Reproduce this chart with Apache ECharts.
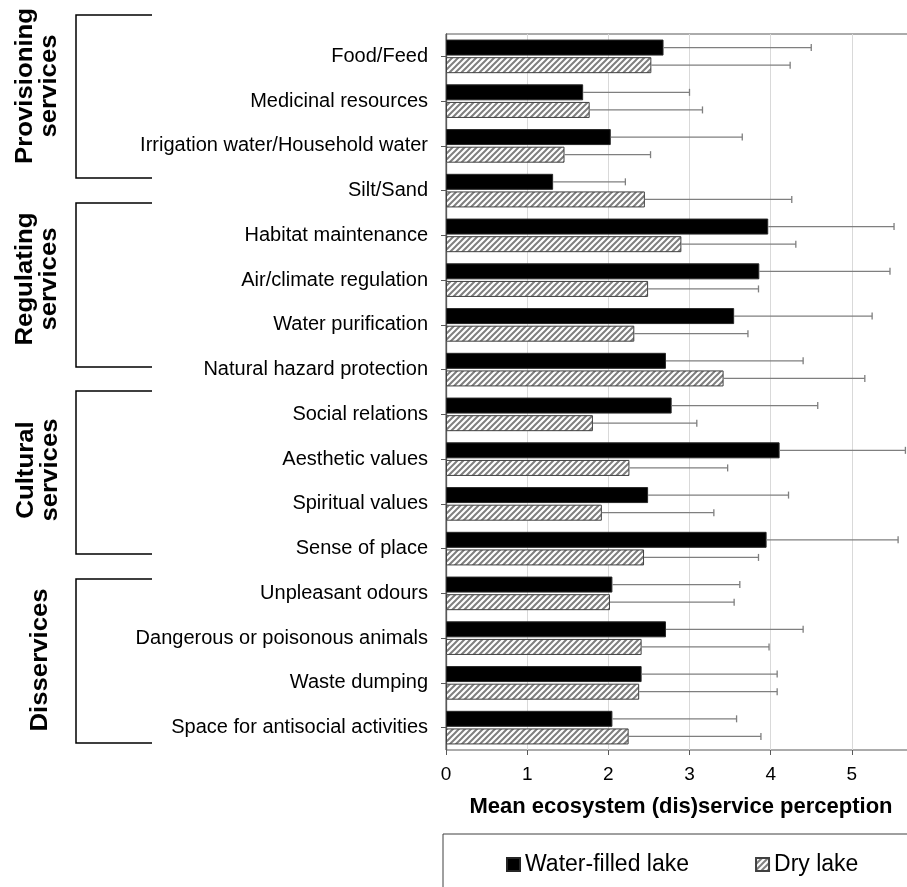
<!DOCTYPE html>
<html>
<head>
<meta charset="utf-8">
<script src="https://cdn.jsdelivr.net/npm/echarts@6/dist/echarts.min.js"></script>
<style>
    html, body { margin: 0; padding: 0; background: #fff; }
    #chart { width: 907px; height: 887px; }
</style>
</head>
<body>
<div id="chart"></div>
<script>
const categories = [
    "Food/Feed", "Medicinal resources", "Irrigation water/Household water", "Silt/Sand",
    "Habitat maintenance", "Air/climate regulation", "Water purification", "Natural hazard protection",
    "Social relations", "Aesthetic values", "Spiritual values", "Sense of place",
    "Unpleasant odours", "Dangerous or poisonous animals", "Waste dumping", "Space for antisocial activities"
];
const waterMean = [2.68, 1.69, 2.03, 1.32, 3.97, 3.86, 3.55, 2.71, 2.78, 4.11, 2.49, 3.95, 2.05, 2.71, 2.41, 2.05];
const waterSd = [1.82, 1.31, 1.62, 0.89, 1.55, 1.61, 1.70, 1.69, 1.80, 1.55, 1.73, 1.62, 1.57, 1.69, 1.67, 1.53];
const dryMean = [2.53, 1.77, 1.46, 2.45, 2.90, 2.49, 2.32, 3.42, 1.81, 2.26, 1.92, 2.44, 2.02, 2.41, 2.38, 2.25];
const drySd = [1.71, 1.39, 1.06, 1.81, 1.41, 1.36, 1.40, 1.74, 1.28, 1.21, 1.38, 1.41, 1.53, 1.57, 1.70, 1.63];
const xTicks = ["0", "1", "2", "3", "4", "5", "6"];
const groups = [
    { name: "Provisioning\nservices", x: 38, y: 86 },
    { name: "Regulating\nservices", x: 38, y: 279 },
    { name: "Cultural\nservices", x: 39, y: 470 },
    { name: "Disservices", x: 41, y: 660 }
];
const brackets = [[15, 178], [203, 367], [391, 554], [579, 743]];

const FONT = "Liberation Sans, Arial, sans-serif";

// diagonal hatch for the dry lake bars
const makeHatch = () => {
    const c = document.createElement("canvas");
    c.width = 6;
    c.height = 6;
    const ctx = c.getContext("2d");
    ctx.fillStyle = "#fff";
    ctx.fillRect(0, 0, 6, 6);
    ctx.strokeStyle = "#7f7f7f";
    ctx.lineWidth = 2;
    ctx.beginPath();
    ctx.moveTo(-1, 7); ctx.lineTo(7, -1);
    ctx.moveTo(-4, 4); ctx.lineTo(4, -4);
    ctx.moveTo(2, 10); ctx.lineTo(10, 2);
    ctx.stroke();
    return c;
};

const errorSeries = (means, sds, offset) => ({
    type: "custom",
    z: 5,
    silent: true,
    encode: { x: 0, y: 1 },
    data: means.map((m, i) => [m + sds[i], i, m]),
    renderItem: (params, api) => {
        const end = api.coord([api.value(0), api.value(1)]);
        const start = api.coord([api.value(2), api.value(1)]);
        const y = end[1] + offset;
        const style = { stroke: "#7f7f7f", lineWidth: 1.3 };
        return {
            type: "group",
            children: [
                { type: "line", shape: { x1: start[0], y1: y, x2: end[0], y2: y }, style: style },
                { type: "line", shape: { x1: end[0], y1: y - 3.5, x2: end[0], y2: y + 3.5 }, style: style }
            ]
        };
    }
});

const getOption = () => {
    const graphics = [];
    brackets.forEach(([t, b]) => {
        graphics.push({
            type: "polyline",
            shape: { points: [[152, t], [76, t], [76, b], [152, b]] },
            style: { stroke: "#000", lineWidth: 1.5, fill: null }
        });
    });
    groups.forEach(g => {
        graphics.push({
            type: "text",
            x: g.x,
            y: g.y,
            rotation: Math.PI / 2,
            scaleX: 1.12,
            style: {
                text: g.name,
                font: "bold 23px " + FONT,
                fill: "#000",
                textAlign: "center",
                textVerticalAlign: "middle",
                lineHeight: 24
            }
        });
    });
    graphics.push({
        type: "rect",
        shape: { x: 443, y: 834, width: 600, height: 100 },
        style: { fill: null, stroke: "#404040", lineWidth: 1 }
    });

    return {
        animation: false,
        textStyle: { fontFamily: FONT },
        grid: {
            left: 446,
            right: -26,
            top: 34,
            bottom: 137,
            outerBoundsMode: "none",
            containLabel: false,
            show: true,
            borderColor: "#595959",
            borderWidth: 1
        },
        legend: {
            data: ["Water-filled lake", "Dry lake"],
            left: 501,
            top: 848,
            itemWidth: 13,
            itemHeight: 13,
            itemGap: 66,
            icon: "rect",
            textStyle: { fontSize: 23, color: "#000", fontFamily: FONT }
        },
        xAxis: {
            type: "value",
            min: 0,
            max: 6,
            interval: 1,
            name: "Mean ecosystem (dis)service perception",
            nameLocation: "middle",
            nameGap: 46,
            nameTextStyle: { fontSize: 22, fontWeight: "bold", color: "#000", padding: [0, 17, 0, 0] },
            axisLine: { lineStyle: { color: "#595959", width: 1.3 } },
            axisTick: { show: true, length: 5, lineStyle: { color: "#595959" } },
            axisLabel: {
                fontSize: 19,
                color: "#000",
                margin: 15,
                formatter: (v) => xTicks[Math.round(v)]
            },
            splitLine: { show: true, lineStyle: { color: "#d9d9d9", width: 1 } }
        },
        yAxis: {
            type: "category",
            inverse: true,
            data: categories,
            axisLine: { lineStyle: { color: "#595959", width: 1.3 } },
            axisTick: { show: true, alignWithLabel: true, length: 5, lineStyle: { color: "#595959" } },
            axisLabel: { fontSize: 20, color: "#000", margin: 18 },
            splitLine: { show: false }
        },
        series: [
            {
                name: "Water-filled lake",
                type: "bar",
                data: waterMean,
                barWidth: 16,
                barGap: "10%",
                itemStyle: { color: "#000", borderColor: "#262626", borderWidth: 1 }
            },
            {
                name: "Dry lake",
                type: "bar",
                data: dryMean,
                barWidth: 16,
                barGap: "10%",
                itemStyle: {
                    color: { image: makeHatch(), repeat: "repeat" },
                    borderColor: "#404040",
                    borderWidth: 1
                }
            },
            errorSeries(waterMean, waterSd, -8.8),
            errorSeries(dryMean, drySd, 8.8)
        ],
        graphic: graphics
    };
};

const chart = echarts.init(document.getElementById("chart"));
chart.setOption(getOption());
</script>
</body>
</html>
